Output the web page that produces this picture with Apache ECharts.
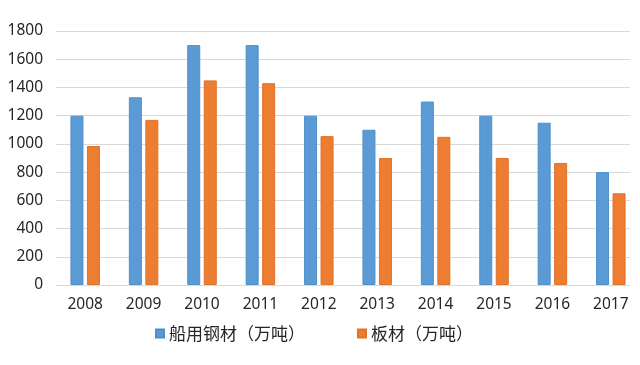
<!DOCTYPE html>
<html>
<head>
<meta charset="utf-8">
<script src="https://cdn.jsdelivr.net/npm/echarts@6/dist/echarts.min.js"></script>
<style>html,body{margin:0;padding:0;background:#fff;}#c{width:640px;height:365px;}</style>
</head>
<body>
<div id="c"></div>
<script>
const years = ['2008','2009','2010','2011','2012','2013','2014','2015','2016','2017'];
const shipSteel = [1200,1330,1700,1700,1200,1100,1300,1200,1150,800];
const plate = [985,1170,1450,1430,1055,900,1050,900,865,650];
const seriesNames = ['船用钢材（万吨）','板材（万吨）'];
const yMin = 0, yMax = 1800, yStep = 200;

const font = '"Noto Sans", "Noto Sans CJK SC", sans-serif';
const chart = echarts.init(document.getElementById('c'), null, {renderer:'canvas'});
chart.setOption({
  animation: false,
  backgroundColor: '#fff',
  textStyle: {fontFamily: font},
  legend: {
    data: seriesNames,
    left: 155, top: 325, padding: 0,
    itemWidth: 8, itemHeight: 8, itemGap: 52, icon: 'rect',
    textStyle: {fontSize: 17, color: '#262626', fontFamily: '"Noto Sans CJK SC", sans-serif'}
  },
  grid: [
    {left: 56, right: 10, top: 31, bottom: 80, containLabel: false},
    {left: 56, right: -3, top: 31, bottom: 80, containLabel: false}
  ],
  xAxis: [
    {gridIndex: 0, type: 'value', min: 0, max: 1, show: false},
    {gridIndex: 1, type: 'category', data: years,
     axisLine: {show: false}, axisTick: {show: false},
     axisLabel: {fontSize: 15.5, color: '#262626', margin: 12, fontFamily: font}}
  ],
  yAxis: [
    {gridIndex: 0, type: 'value', min: yMin, max: yMax, interval: yStep,
     axisLine: {show: false}, axisTick: {show: false},
     splitLine: {lineStyle: {color: '#d9d9d9', width: 1}},
     axisLabel: {fontSize: 15.5, color: '#262626', margin: 13, fontFamily: font,
                 formatter: v => String(v)}},
    {gridIndex: 1, type: 'value', min: yMin, max: yMax, interval: yStep, show: false,
     splitLine: {show: false}}
  ],
  series: [
    {name: seriesNames[0], type: 'bar', xAxisIndex: 1, yAxisIndex: 1, data: shipSteel,
     barWidth: 13, barGap: '27%',
     itemStyle: {color: '#5B9BD5', borderColor: '#4f8fca', borderWidth: 1}},
    {name: seriesNames[1], type: 'bar', xAxisIndex: 1, yAxisIndex: 1, data: plate,
     barWidth: 13, barGap: '27%',
     itemStyle: {color: '#ED7D31', borderColor: '#e0722a', borderWidth: 1}}
  ]
});
</script>
</body>
</html>
